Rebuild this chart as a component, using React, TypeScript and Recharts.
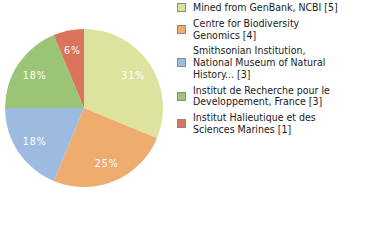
import { PieChart, Pie, Cell, Legend } from 'recharts';

document.body.style.margin = '0';

const sources = [
  'Mined from GenBank, NCBI [5]',
  'Centre for Biodiversity\nGenomics [4]',
  'Smithsonian Institution,\nNational Museum of Natural\nHistory... [3]',
  'Institut de Recherche pour le\nDeveloppement, France [3]',
  'Institut Halieutique et des\nSciences Marines [1]',
];
const counts = [5, 4, 3, 3, 1];
const colors = ['#dde29e', '#eeac6f', '#9dbbe0', '#9cc476', '#db745a'];

const data = sources.map((name, i) => ({ name, value: counts[i] }));
const total = counts.reduce((a, b) => a + b, 0);

const RADIAN = Math.PI / 180;

// percentages are truncated, not rounded
function renderLabel(props: any) {
  const { cx, cy, midAngle, outerRadius, value } = props;
  const r = outerRadius * 0.75;
  const x = cx + r * Math.cos(-midAngle * RADIAN);
  const y = cy + r * Math.sin(-midAngle * RADIAN);
  return (
    <text
      x={x}
      y={y}
      fill="#ffffff"
      textAnchor="middle"
      dominantBaseline="central"
      fontSize={10.5}
      fontFamily="DejaVu Sans Condensed"
      letterSpacing={1}
    >
      {`${Math.floor((value / total) * 100)}%`}
    </text>
  );
}

function SourceLegend() {
  return (
    <div style={{ fontFamily: 'DejaVu Sans Condensed', fontSize: 10.5, color: '#1a1a1a', lineHeight: '11.75px' }}>
      {data.map((d, i) => (
        <div key={d.name} style={{ display: 'flex', alignItems: 'center', marginBottom: 4 }}>
          <span
            style={{
              width: 7,
              height: 7,
              background: colors[i],
              border: '1px solid #8a8a8a',
              marginRight: 7,
              flexShrink: 0,
            }}
          />
          <span style={{ whiteSpace: 'pre-line' }}>{d.name}</span>
        </div>
      ))}
    </div>
  );
}

export default function App() {
  return (
    <PieChart width={380} height={240} margin={{ top: 0, right: 0, bottom: 0, left: 0 }}>
      <Pie
        data={data}
        dataKey="value"
        cx={84}
        cy={108}
        outerRadius={79}
        startAngle={90}
        endAngle={-270}
        stroke="none"
        label={renderLabel}
        labelLine={false}
        isAnimationActive={false}
      >
        {data.map((d, i) => (
          <Cell key={d.name} fill={colors[i]} />
        ))}
      </Pie>
      <Legend
        content={() => <SourceLegend />}
        wrapperStyle={{ top: 2, left: 177, width: 200 }}
      />
    </PieChart>
  );
}
